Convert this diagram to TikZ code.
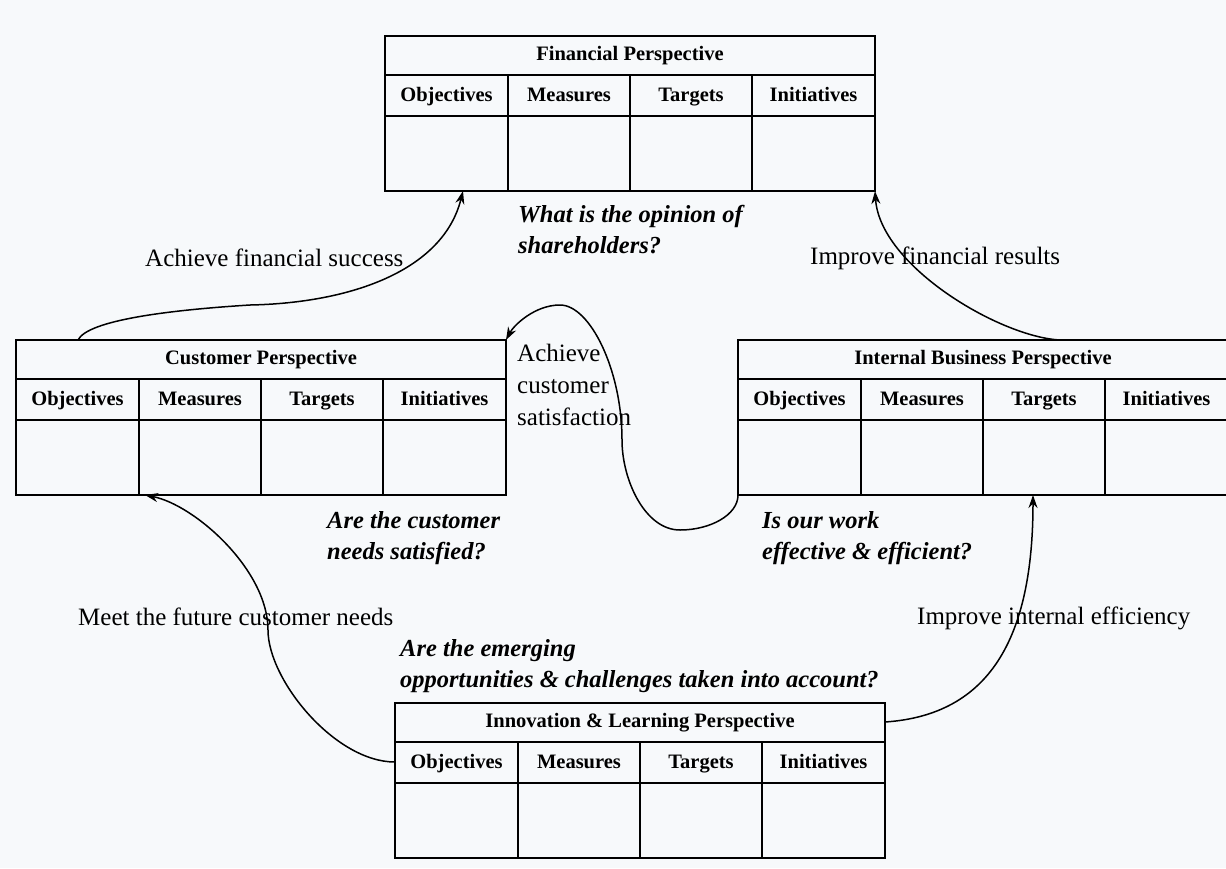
\documentclass[tikz,border=0pt]{standalone}
\usepackage{fontspec}
\setmainfont{Liberation Serif}
\usetikzlibrary{arrows.meta}
\definecolor{bg}{RGB}{247,249,251}
\tikzset{
 tabframe/.style={draw, line width=1.7pt, minimum width=490pt, minimum height=155pt, inner sep=0pt, outer sep=0pt},
 tabline/.style={line width=1.7pt},
 tabtitle/.style={font=\fontsize{20.5}{24}\selectfont\bfseries, inner sep=0pt, text height=14pt, text depth=4pt},
 tabhead/.style={font=\fontsize{20.5}{24}\selectfont\bfseries, inner sep=0pt, text height=14pt, text depth=4pt},
 lbl/.style={font=\fontsize{25}{32}\selectfont, anchor=west, align=left, inner sep=0pt},
 qst/.style={font=\fontsize{24.5}{31}\selectfont\bfseries\itshape, anchor=west, align=left, inner sep=0pt},
 conn/.style={line width=1.5pt, -{Stealth[length=13pt,width=9pt]}},
}
\newcommand{\bsctab}[4]{%
 \node[tabframe, anchor=north west] (#1) at (#2,#3) {};
 \draw[tabline] ([yshift=-39pt]#1.north west) -- ([yshift=-39pt]#1.north east);
 \draw[tabline] ([yshift=-80pt]#1.north west) -- ([yshift=-80pt]#1.north east);
 \foreach \cx in {123,245,367}{\draw[tabline] ([xshift=\cx pt,yshift=-39pt]#1.north west) -- ([xshift=\cx pt]#1.south west);}
 \node[tabtitle] (#1-t) at ([yshift=-19.5pt]#1.north) {#4};
 \node[tabhead] (#1-o) at ([xshift=61.5pt,yshift=-60pt]#1.north west) {Objectives};
 \node[tabhead] (#1-m) at ([xshift=184pt,yshift=-60pt]#1.north west) {Measures};
 \node[tabhead] (#1-g) at ([xshift=306pt,yshift=-60pt]#1.north west) {Targets};
 \node[tabhead] (#1-i) at ([xshift=428.5pt,yshift=-60pt]#1.north west) {Initiatives};
}
\begin{document}
\begin{tikzpicture}[x=1pt,y=-1pt]
\fill[bg] (0,0) rectangle (1226,868);
\useasboundingbox (0,0) rectangle (1226,868);

\bsctab{fin}{385}{36}{Financial Perspective}
\bsctab{cus}{16}{340}{Customer Perspective}
\bsctab{int}{738}{340}{Internal Business Perspective}
\bsctab{inn}{395}{703}{Innovation \& Learning Perspective}

% labels
\node[qst] (q1) at (518,230) {What is the opinion of\\shareholders?};
\node[lbl] (l1) at (145,258) {Achieve financial success};
\node[lbl] (l2) at (810,258) {Improve financial results};
\node[lbl] (l3) at (517,385) {Achieve\\customer\\satisfaction};
\node[qst] (q2) at (327,538) {Are the customer\\needs satisfied?};
\node[qst] (q3) at (762,538) {Is our work\\effective \& efficient?};
\node[lbl] (l4) at (78,617) {Meet the future customer needs};
\node[lbl] (l5) at (917,618) {Improve internal efficiency};
\node[qst] (q4) at (400,666) {Are the emerging\\opportunities \& challenges taken into account?};

% connectors
\coordinate (m1) at (250,305);
\draw[conn] ([xshift=62pt]cus.north west) .. controls +(10,-20) and +(-80,5) .. (m1)
  .. controls +(100,-2) and +(-20,80) .. ([xshift=78pt]fin.south west);

\draw[conn] ([xshift=322pt]int.north west) .. controls +(-60,-3) and +(5,75) .. (fin.south east);

\coordinate (m3a) at (680,530);
\coordinate (m3b) at (622,440);
\coordinate (m3c) at (560,305);
\draw[conn] (int.south west) .. controls +(0,20) and +(30,0) .. (m3a)
  .. controls +(-35,0) and +(0,40) .. (m3b)
  .. controls +(0,-70) and +(30,0) .. (m3c)
  .. controls +(-25,0) and +(8,-15) .. (cus.north east);

\coordinate (m4) at (268,630);
\draw[conn] ([yshift=-59pt]inn.north west) .. controls +(-60,0) and +(0,50) .. (m4)
  .. controls +(0,-60) and +(50,10) .. ([xshift=129pt]cus.south west);

\draw[conn] ([yshift=-19pt]inn.north east) .. controls +(104,-7) and +(0,144) .. ([xshift=295pt]int.south west);
\end{tikzpicture}
\end{document}
